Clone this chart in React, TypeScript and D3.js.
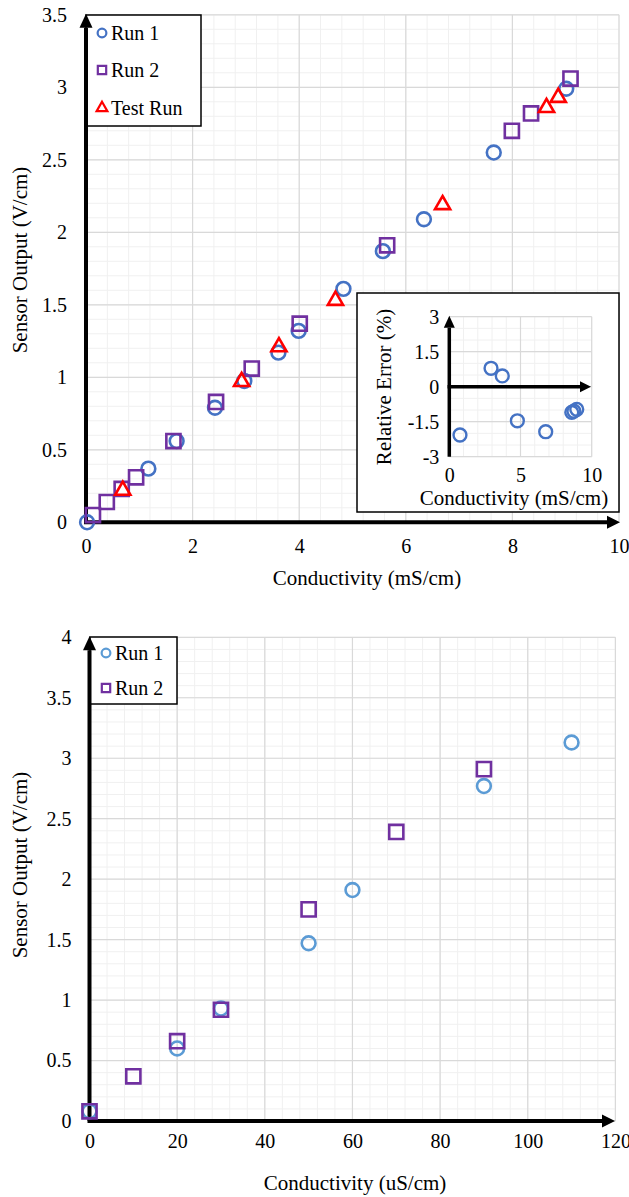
import { useEffect, useRef } from "react"
import * as d3 from "d3"

// high range calibration (mS/cm)
const run1X = [0.02, 1.17, 1.7, 2.42, 2.97, 3.61, 3.99, 4.83, 5.57, 6.34, 7.65, 9.01]
const run1Y = [0, 0.37, 0.56, 0.79, 0.975, 1.17, 1.32, 1.61, 1.87, 2.09, 2.55, 2.99]
const run2X = [0.13, 0.39, 0.67, 0.94, 1.64, 2.44, 3.11, 4.01, 5.65, 7.99, 8.35, 9.09]
const run2Y = [0.05, 0.14, 0.23, 0.31, 0.56, 0.83, 1.06, 1.37, 1.91, 2.7, 2.82, 3.06]
const testX = [0.69, 2.92, 3.62, 4.68, 6.69, 8.64, 8.86]
const testY = [0.22, 0.97, 1.21, 1.53, 2.19, 2.86, 2.93]

// inset: relative error
const errX = [0.75, 2.93, 3.72, 4.78, 6.77, 8.6, 8.75, 8.95]
const errY = [-2.07, 0.79, 0.46, -1.46, -1.93, -1.1, -1.05, -0.97]

// low range calibration (uS/cm)
const lowRun1X = [0, 20, 30, 50, 60, 90, 110]
const lowRun1Y = [0.08, 0.6, 0.93, 1.47, 1.91, 2.77, 3.13]
const lowRun2X = [0, 10, 20, 30, 50, 70, 90]
const lowRun2Y = [0.08, 0.37, 0.66, 0.92, 1.75, 2.39, 2.91]

const topXTicks = [0, 2, 4, 6, 8, 10]
const topYTicks = [0, 0.5, 1, 1.5, 2, 2.5, 3, 3.5]
const errXTicks = [0, 5, 10]
const errYTicks = [-3, -1.5, 0, 1.5, 3]
const lowXTicks = [0, 20, 40, 60, 80, 100, 120]
const lowYTicks = [0, 0.5, 1, 1.5, 2, 2.5, 3, 3.5, 4]

const FONT = "Liberation Serif, DejaVu Serif, Noto Serif, serif"
const BLUE = "#4472C4"
const LIGHTBLUE = "#5B9BD5"
const PURPLE = "#7030A0"
const RED = "#FF0000"

const zip = (xs, ys) => xs.map((x, i) => [x, ys[i]])

// grid lines (minor + major)
function drawFrame(g, x, y, opt) {
  const [x0, x1] = x.domain()
  const [y0, y1] = y.domain()
  const minorX = d3.range(x0, x1 + 1e-9, opt.xMinor)
  const minorY = d3.range(y0, y1 + 1e-9, opt.yMinor)
  g.append("g").selectAll("line").data(minorX).join("line")
    .attr("x1", d => x(d)).attr("x2", d => x(d)).attr("y1", y(y0)).attr("y2", y(y1))
    .attr("stroke", "#f0f0f0").attr("stroke-width", 1)
  g.append("g").selectAll("line").data(minorY).join("line")
    .attr("y1", d => y(d)).attr("y2", d => y(d)).attr("x1", x(x0)).attr("x2", x(x1))
    .attr("stroke", "#f0f0f0").attr("stroke-width", 1)
  g.append("g").selectAll("line").data(opt.xTicks).join("line")
    .attr("x1", d => x(d)).attr("x2", d => x(d)).attr("y1", y(y0)).attr("y2", y(y1))
    .attr("stroke", "#d9d9d9").attr("stroke-width", 1.2)
  g.append("g").selectAll("line").data(opt.yTicks).join("line")
    .attr("y1", d => y(d)).attr("y2", d => y(d)).attr("x1", x(x0)).attr("x2", x(x1))
    .attr("stroke", "#d9d9d9").attr("stroke-width", 1.2)
}

// thick black axes with arrow heads + tick labels
function drawAxes(g, x, y, opt) {
  const [x0] = x.domain()
  const [y0, y1] = y.domain()
  const ax = x(x0)
  const ay = y(opt.xCross ?? y0)
  const w = opt.axisWidth
  const ah = opt.arrow
  g.append("line").attr("x1", ax).attr("x2", ax).attr("y1", y(y0)).attr("y2", y(y1) + ah)
    .attr("stroke", "#000").attr("stroke-width", w)
  g.append("path")
    .attr("d", `M${ax},${y(y1) - 1}L${ax - ah / 2},${y(y1) + ah}L${ax + ah / 2},${y(y1) + ah}Z`)
    .attr("fill", "#000")
  g.append("line").attr("x1", x(x0) - w / 2).attr("x2", opt.xTip - ah).attr("y1", ay).attr("y2", ay)
    .attr("stroke", "#000").attr("stroke-width", w)
  g.append("path")
    .attr("d", `M${opt.xTip},${ay}L${opt.xTip - ah},${ay - ah / 2}L${opt.xTip - ah},${ay + ah / 2}Z`)
    .attr("fill", "#000")

  const yAx = g.append("g").attr("transform", `translate(${x(x0)},0)`)
    .call(d3.axisLeft(y).tickValues(opt.yTicks).tickSize(0).tickPadding(opt.yPad).tickFormat(d => String(d)))
  const xAx = g.append("g").attr("transform", `translate(0,${y(y0)})`)
    .call(d3.axisBottom(x).tickValues(opt.xTicks).tickSize(0).tickPadding(opt.xPad).tickFormat(d => String(d)))
  for (const a of [yAx, xAx]) {
    a.select(".domain").remove()
    a.attr("font-family", FONT).attr("font-size", opt.tickSize)
    a.selectAll("text").attr("fill", "#000")
  }
}

function drawMarks(g, pts, x, y, shape, color, size, sw) {
  g.append("g").selectAll("path").data(pts).join("path")
    .attr("transform", d => `translate(${x(d[0])},${y(d[1])})`)
    .attr("d", d3.symbol(shape, size))
    .attr("fill", "none").attr("stroke", color).attr("stroke-width", sw)
}

function drawLegendBox(g, box) {
  g.append("rect").attr("x", box[0]).attr("y", box[1]).attr("width", box[2]).attr("height", box[3])
    .attr("fill", "#fff").attr("stroke", "#000").attr("stroke-width", 1.5)
}

function drawLegendItems(g, left, items) {
  items.forEach(it => {
    g.append("path").attr("transform", `translate(${left + 16},${it.y})`)
      .attr("d", d3.symbol(it.shape, it.size))
      .attr("fill", "none").attr("stroke", it.color).attr("stroke-width", 2.2)
    g.append("text").attr("x", left + 25).attr("y", it.y).attr("dy", "0.35em")
      .attr("font-family", FONT).attr("font-size", 20).text(it.label)
  })
}

function title(g, text, cx, cy, rotate, size) {
  g.append("text")
    .attr("transform", `translate(${cx},${cy})${rotate ? " rotate(-90)" : ""}`)
    .attr("text-anchor", "middle").attr("dominant-baseline", "central")
    .attr("font-family", FONT).attr("font-size", size).text(text)
}

const App = () => {
  const svgRef = useRef(null)

  useEffect(() => {
    const svg = d3.select(svgRef.current)
    svg.selectAll("*").remove()

    // ---- top chart ----
    const top = svg.append("g")
    const x = d3.scaleLinear().domain([0, 10]).range([86, 619])
    const y = d3.scaleLinear().domain([0, 3.5]).range([522.3, 14.8])
    drawFrame(top, x, y, { xMinor: 0.4, yMinor: 0.1, xTicks: topXTicks, yTicks: topYTicks })
    drawLegendBox(top, [86, 15, 115, 111])
    drawAxes(top, x, y, { axisWidth: 4, arrow: 13, xTip: 620, yTicks: topYTicks, xTicks: topXTicks, yPad: 19, xPad: 17, tickSize: 20 })
    drawMarks(top, zip(run1X, run1Y), x, y, d3.symbolCircle, BLUE, 150, 2.6)
    drawMarks(top, zip(run2X, run2Y), x, y, d3.symbolSquare, PURPLE, 200, 2.6)
    drawMarks(top, zip(testX, testY), x, y, d3.symbolTriangle, RED, 100, 2.6)
    drawLegendItems(top, 86, [
      { y: 33, shape: d3.symbolCircle, size: 60, color: BLUE, label: "Run 1" },
      { y: 70, shape: d3.symbolSquare, size: 70, color: PURPLE, label: "Run 2" },
      { y: 108, shape: d3.symbolTriangle, size: 50, color: RED, label: "Test Run" },
    ])
    title(top, "Sensor Output (V/cm)", 20, 260, true, 21)
    title(top, "Conductivity (mS/cm)", 367, 578, false, 21)

    // ---- inset ----
    const ins = svg.append("g")
    ins.append("rect").attr("x", 357).attr("y", 293).attr("width", 262).attr("height", 219)
      .attr("fill", "#fff").attr("stroke", "#000").attr("stroke-width", 1.5)
    const ex = d3.scaleLinear().domain([0, 10]).range([449.3, 591.7])
    const ey = d3.scaleLinear().domain([-3, 3]).range([456.7, 316.7])
    drawFrame(ins, ex, ey, { xMinor: 1, yMinor: 0.5, xTicks: errXTicks, yTicks: errYTicks })
    drawAxes(ins, ex, ey, { axisWidth: 3.5, arrow: 11, xTip: 591, xCross: 0, yTicks: errYTicks, xTicks: errXTicks, yPad: 10, xPad: 11, tickSize: 20 })
    drawMarks(ins, zip(errX, errY), ex, ey, d3.symbolCircle, BLUE, 130, 2.4)
    title(ins, "Relative Error (%)", 384, 387, true, 21)
    title(ins, "Conductivity (mS/cm)", 514, 498, false, 21)

    // ---- bottom chart ----
    const bot = svg.append("g")
    const bx = d3.scaleLinear().domain([0, 120]).range([89.5, 615.4])
    const by = d3.scaleLinear().domain([0, 4]).range([1121, 637.3])
    drawFrame(bot, bx, by, { xMinor: 4, yMinor: 0.1, xTicks: lowXTicks, yTicks: lowYTicks })
    drawLegendBox(bot, [90, 637, 87, 67])
    drawAxes(bot, bx, by, { axisWidth: 4, arrow: 13, xTip: 615, yTicks: lowYTicks, xTicks: lowXTicks, yPad: 18, xPad: 13, tickSize: 20 })
    drawMarks(bot, zip(lowRun1X, lowRun1Y), bx, by, d3.symbolCircle, LIGHTBLUE, 150, 2.6)
    drawMarks(bot, zip(lowRun2X, lowRun2Y), bx, by, d3.symbolSquare, PURPLE, 200, 2.6)
    drawLegendItems(bot, 90, [
      { y: 653, shape: d3.symbolCircle, size: 60, color: LIGHTBLUE, label: "Run 1" },
      { y: 688, shape: d3.symbolSquare, size: 70, color: PURPLE, label: "Run 2" },
    ])
    title(bot, "Sensor Output (V/cm)", 20, 865, true, 21)
    title(bot, "Conductivity (uS/cm)", 355, 1183, false, 21)
  }, [])

  return (
    <div style={{ position: "absolute", left: 0, top: 0 }}>
      <svg ref={svgRef} width={629} height={1197} style={{ display: "block", background: "#fff" }} />
    </div>
  )
}

export default App
